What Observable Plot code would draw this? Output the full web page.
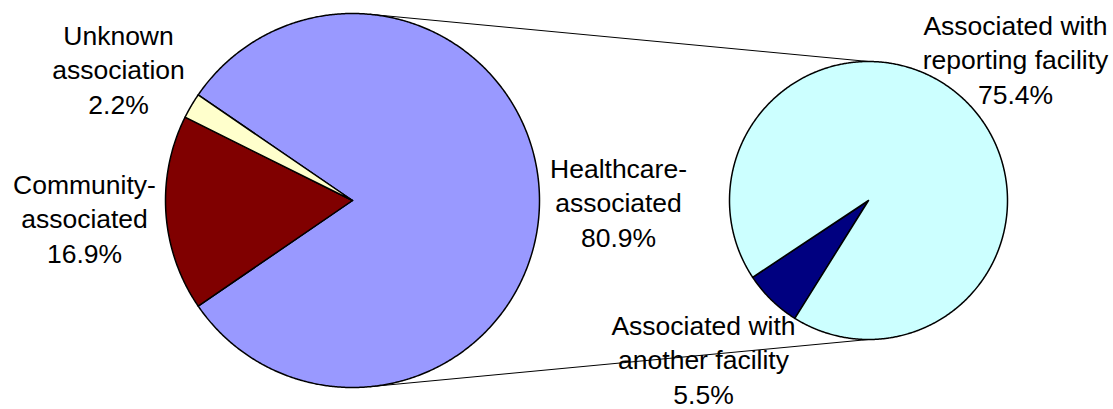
<!DOCTYPE html>
<html>
<head>
<meta charset="utf-8">
<script src="https://cdn.jsdelivr.net/npm/d3@7"></script>
<script src="https://cdn.jsdelivr.net/npm/@observablehq/plot@0.6"></script>
<style>
  html, body { margin: 0; padding: 0; background: #fff; }
</style>
</head>
<body>
<div id="chart"></div>
<script>
// Primary pie: how infections are associated
const mainCategories = ["Healthcare-\nassociated", "Community-\nassociated", "Unknown\nassociation"];
const mainValues = [80.9, 16.9, 2.2];
const mainColors = ["#9999FF", "#800000", "#FFFFCC"];

// Secondary pie: split of the healthcare-associated share
const subCategories = ["Associated with\nanother facility", "Associated with\nreporting facility"];
const subValues = [5.5, 75.4];
const subColors = ["#000080", "#CCFFFF"];

// ---- layout ----
const W = 1113, H = 409;
const deg = Math.PI / 180;
const mainPie = {cx: 352, cy: 200, r: 187};
const subPie = {cx: 868, cy: 200, r: 139, start: 212 * deg};
// the healthcare slice is centred on the right-hand side, facing the secondary pie
mainPie.start = Math.PI / 2 - Math.PI * mainValues[0] / d3.sum(mainValues);

// label anchors: centre x and baseline of the last line
const mainLabelPos = [[618, 246], [84, 262], [118, 113]];
const subLabelPos = [[703, 403], [1015, 103]];

// Turn a pie layout into closed polygons (centre + sampled arc)
function slicePolygons(categories, values, pie) {
  const arcs = d3.pie().sort(null).startAngle(pie.start).endAngle(pie.start + 2 * Math.PI)(values);
  const pts = [];
  arcs.forEach((a, i) => {
    const key = categories[i];
    pts.push({key, x: pie.cx, y: pie.cy});
    const n = Math.max(2, Math.ceil((a.endAngle - a.startAngle) / (0.4 * deg)));
    for (let k = 0; k <= n; ++k) {
      const t = a.startAngle + (a.endAngle - a.startAngle) * k / n;
      pts.push({key, x: pie.cx + pie.r * Math.sin(t), y: pie.cy - pie.r * Math.cos(t)});
    }
  });
  return pts;
}

// Tangent point on a circle as seen from an outside point
function tangentPoint(pie, px, py, side) {
  const dx = px - pie.cx, dy = py - pie.cy;
  const d = Math.hypot(dx, dy);
  const phi = Math.atan2(dy, dx);
  const alpha = Math.acos(pie.r / d);
  const t = phi + side * alpha;
  return [pie.cx + pie.r * Math.cos(t), pie.cy + pie.r * Math.sin(t)];
}

const slices = [
  ...slicePolygons(mainCategories, mainValues, mainPie),
  ...slicePolygons(subCategories, subValues, subPie)
];

const subTop = [subPie.cx, subPie.cy - subPie.r];
const subBottom = [subPie.cx, subPie.cy + subPie.r];
const tTop = tangentPoint(mainPie, subTop[0], subTop[1], -1);
const tBottom = tangentPoint(mainPie, subBottom[0], subBottom[1], 1);
const connectors = [
  {x1: tTop[0], y1: tTop[1], x2: subTop[0], y2: subTop[1]},
  {x1: tBottom[0], y1: tBottom[1], x2: subBottom[0], y2: subBottom[1]}
];

const labels = [
  ...mainCategories.map((c, i) => ({text: `${c}\n${mainValues[i].toFixed(1)}%`, x: mainLabelPos[i][0], y: mainLabelPos[i][1]})),
  ...subCategories.map((c, i) => ({text: `${c}\n${subValues[i].toFixed(1)}%`, x: subLabelPos[i][0], y: subLabelPos[i][1]}))
];

const chart = Plot.plot({
  width: W,
  height: H,
  margin: 0,
  x: {domain: [0, W], range: [0, W], axis: null},
  y: {domain: [0, H], range: [0, H], axis: null},
  color: {domain: [...mainCategories, ...subCategories], range: [...mainColors, ...subColors]},
  style: {fontFamily: "'Liberation Sans', Arial, sans-serif", background: "white", overflow: "visible"},
  marks: [
    Plot.link(connectors, {x1: "x1", y1: "y1", x2: "x2", y2: "y2", stroke: "black", strokeWidth: 1}),
    Plot.line(slices, {
      x: "x", y: "y", z: "key", fill: "key",
      stroke: "black", strokeWidth: 1.5, strokeLinejoin: "round",
      curve: "linear-closed"
    }),
    Plot.text(labels, {
      x: "x", y: "y", text: "text",
      lineAnchor: "bottom", lineHeight: 1.3,
      fontSize: 26.5, fill: "black", textAnchor: "middle"
    })
  ]
});

document.getElementById("chart").append(chart);
</script>
</body>
</html>
